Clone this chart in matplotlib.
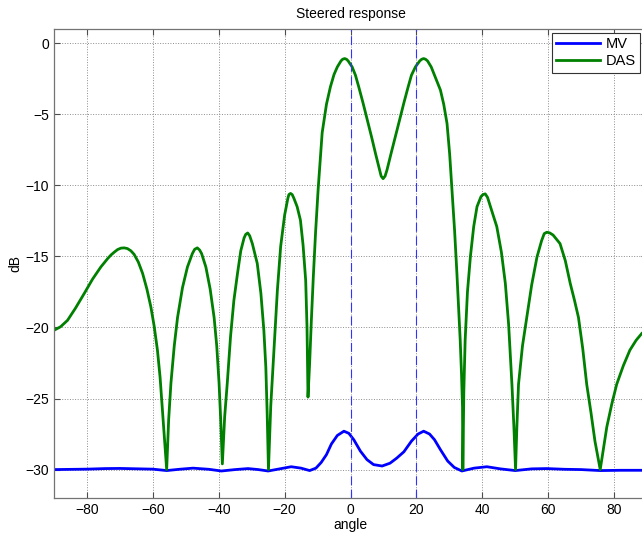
import matplotlib
matplotlib.use("Agg")
import matplotlib.pyplot as plt

plt.rcParams['font.family'] = ['Liberation Sans', 'DejaVu Sans']

# ---- data ----
mv_angle = [-90, -80, -74.5, -70, -60, -55.8, -52, -47.8, -43, -39.2, -35, -31.1, -28, -25,
            -21.5, -18, -15, -12.4, -10.5, -8.9, -7.3, -5.8, -4, -2, -0.5, 1, 3, 5, 7, 9.6,
            12, 14, 16.2, 18.5, 20.5, 22.2, 24, 25.5, 27.3, 29.5, 31.5, 33.8, 37.5, 41.4,
            45.5, 50, 55, 59.6, 65, 70, 75.8, 82, 90]
mv_db = [-30.0, -29.97, -29.93, -29.92, -29.97, -30.07, -29.98, -29.9, -29.98, -30.1, -30.0,
         -29.93, -30.0, -30.1, -29.95, -29.8, -29.9, -30.07, -29.9, -29.5, -28.95, -28.2,
         -27.6, -27.3, -27.45, -27.9, -28.7, -29.3, -29.65, -29.75, -29.55, -29.2, -28.75,
         -28.0, -27.5, -27.3, -27.5, -27.9, -28.6, -29.4, -29.85, -30.1, -29.9, -29.8,
         -29.95, -30.07, -29.95, -29.93, -29.98, -30.0, -30.07, -30.05, -30.05]

das_angle = [-90, -88, -85.9, -83.5, -80.8, -78.3, -75.8, -73.7, -72.7, -71.7, -70.7, -69.7,
             -68.7, -67.7, -66.7, -65.7, -64.4, -63.1, -61.8, -60.6, -59.6, -58.6, -57.8,
             -57.1, -56.4, -55.8, -55.2, -54.5, -53.5, -52.5, -51, -49.5, -48, -47.3, -46.5,
             -45.8, -45.2, -43.9, -42.6, -41.4, -40.6, -39.9, -39.4, -38.9, -38.2, -37.4,
             -36.4, -35.4, -34.3, -33.3, -32.3, -31.8, -31.2, -30.6, -29.8, -28.3, -27.2,
             -26.3, -25.7, -25.3, -24.9, -24.2, -23.2, -22.2, -21.2, -20.0, -19.0, -18.7,
             -18.2, -17.7, -17.2, -16.2, -15.2, -14.4, -13.6, -13.2, -12.9, -12.4, -11.9,
             -11.3, -10.6, -9.8, -8.6, -7.3, -6.1, -5.0, -4.0, -2.9, -2.4, -1.8, -1.2, -0.7,
             0.5, 1.5, 2.5, 3.8, 5.1, 6.4, 7.6, 8.8, 9.3, 9.9, 10.5, 11.1, 12.3, 13.6, 14.9,
             16.2, 17.5, 18.5, 19.7, 21.0, 21.6, 22.2, 22.8, 23.4, 24.5, 25.5, 27.3, 28.3,
             29.3, 30.1, 30.8, 31.6, 32.3, 32.8, 33.3, 33.7, 34.0, 34.1, 34.4, 34.8, 35.5,
             36.4, 37.4, 38.4, 39.6, 40.2, 40.9, 41.6, 42.2, 43.3, 44.4, 45.8, 47, 48, 49,
             49.6, 50.1, 50.5, 51, 52.2, 53.5, 55, 56.6, 58, 58.8, 59.6, 60.5, 61.5, 63.6,
             65.2, 66.7, 68, 69.2, 70.5, 71.7, 73, 74.2, 75.8, 77, 77.8, 79.3, 80.8, 82.8,
             84.8, 86.7, 88.5, 90]
das_db = [-20.2, -19.95, -19.5, -18.65, -17.6, -16.6, -15.75, -15.15, -14.9, -14.7, -14.52,
          -14.42, -14.4, -14.45, -14.6, -14.85, -15.4, -16.2, -17.3, -18.55, -19.9, -21.6,
          -23.5, -25.8, -28.0, -30.0, -26.5, -23.9, -21.3, -19.3, -17.2, -15.75, -14.8,
          -14.5, -14.4, -14.55, -14.8, -15.75, -17.3, -19.3, -21.3, -23.9, -26.5, -29.6,
          -26.3, -23.9, -20.6, -18.1, -16.2, -14.6, -13.7, -13.45, -13.35, -13.55, -14.1,
          -15.5, -17.6, -20.2, -22.8, -26.0, -30.0, -25.5, -21.4, -17.4, -14.3, -12.1,
          -10.9, -10.65, -10.57, -10.65, -10.9, -11.5, -12.45, -14.2, -16.7, -20.0, -24.9,
          -22.5, -19.6, -16.5, -13.3, -10.2, -6.3, -4.3, -3.07, -2.2, -1.67, -1.25, -1.13,
          -1.08, -1.13, -1.25, -1.67, -2.25, -3.07, -4.2, -5.4, -6.6, -7.77, -8.9, -9.35,
          -9.53, -9.35, -8.9, -7.77, -6.6, -5.4, -4.2, -3.07, -2.25, -1.67, -1.25, -1.13,
          -1.08, -1.13, -1.25, -1.67, -2.25, -3.3, -4.3, -5.65, -7.8, -10.3, -13.2, -16.2,
          -18.5, -20.9, -23.3, -25.6, -30.0, -24.5, -20.9, -17.5, -15.0, -12.9, -11.5,
          -10.8, -10.65, -10.6, -10.85, -11.3, -12.1, -12.9, -14.7, -16.9, -19.8, -24.0,
          -27.0, -30.0, -27.0, -24.0, -21.3, -19.3, -17.0, -15.05, -13.9, -13.4, -13.3,
          -13.35, -13.5, -14.1, -15.3, -16.9, -18.1, -19.3, -21.5, -24.0, -26.0, -28.0,
          -30.0, -28.2, -27.0, -25.4, -24.0, -22.7, -21.6, -20.9, -20.4, -20.2]

steer_angles = [0, 20]
x_ticks = [-80, -60, -40, -20, 0, 20, 40, 60, 80]
y_ticks = [0, -5, -10, -15, -20, -25, -30]

# ---- figure ----
W, H = 642, 537
fig = plt.figure(figsize=(W / 100, H / 100), dpi=100)
ax = fig.add_axes([54 / W, 1 - 498 / H, (647 - 54) / W, (498 - 29) / H])

ax.plot(mv_angle, mv_db, color=(0, 0, 1), lw=2.0, label='MV')
ax.plot(das_angle, das_db, color=(0, 0.5, 0), lw=2.0, label='DAS')
for a in steer_angles:
    ax.axvline(a, color=(0.2, 0.2, 1), lw=0.8, ls=(0, (8, 4)))

ax.set_xlim(-90, 90)
ax.set_ylim(-32, 1)
ax.set_xticks(x_ticks)
ax.set_yticks(y_ticks)
ax.grid(True, ls=':', color=(0.55, 0.55, 0.55), lw=0.7)
ax.tick_params(direction='in', top=True, right=True, length=4, labelsize=10,
               color=(0.3, 0.3, 0.3))
for s in ax.spines.values():
    s.set_color((0.45, 0.45, 0.45))
    s.set_linewidth(0.9)

ax.set_title('Steered response', fontsize=10, pad=8)
ax.set_xlabel('angle', fontsize=10, labelpad=1)
ax.set_ylabel('dB', fontsize=10, labelpad=2)

leg = ax.legend(loc='upper right', bbox_to_anchor=(640 / W, 1 - 33 / H),
                bbox_transform=fig.transFigure, borderaxespad=0, fontsize=10.5,
                handlelength=3.0, handletextpad=0.4, borderpad=0.3, labelspacing=0.2,
                fancybox=False, framealpha=1)
leg.get_frame().set_edgecolor((0.2, 0.2, 0.2))
leg.get_frame().set_linewidth(0.8)

fig.savefig('out.png', dpi=100)
